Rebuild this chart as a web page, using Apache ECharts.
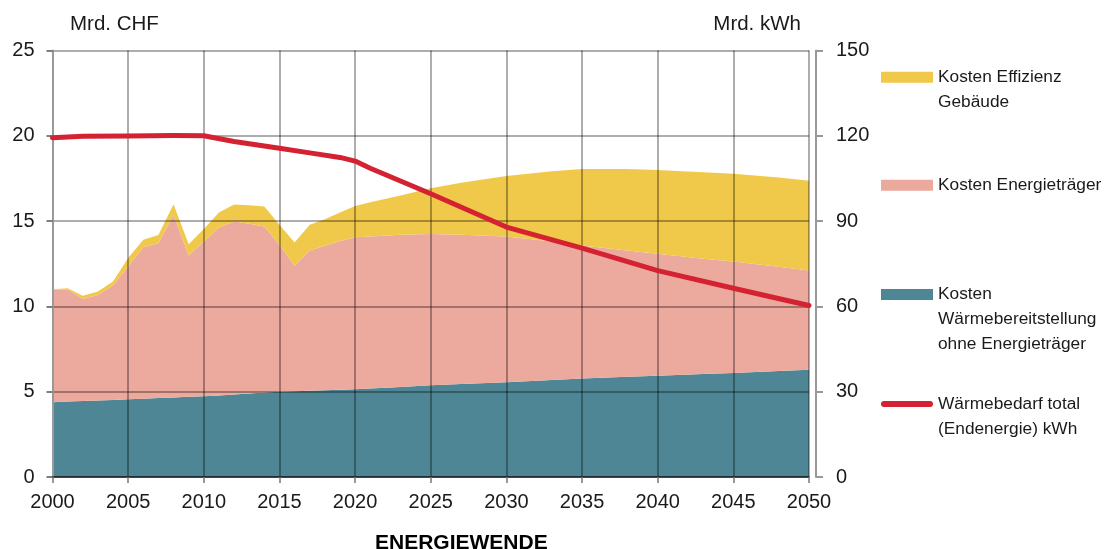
<!DOCTYPE html>
<html>
<head>
<meta charset="utf-8">
<script src="https://cdn.jsdelivr.net/npm/echarts@6/dist/echarts.min.js"></script>
<style>
  html, body { margin: 0; padding: 0; background: #ffffff; }
  #chart { width: 1107px; height: 549px; }
</style>
</head>
<body>
<div id="chart"></div>
<script>
// Years shared by the three stacked cost areas
const costYears = [2000, 2001, 2002, 2003, 2004, 2005, 2006, 2007, 2008, 2009, 2010,
  2011, 2012, 2013, 2014, 2015, 2016, 2017, 2018, 2019, 2020, 2021,
  2023, 2025, 2027, 2030, 2033, 2035, 2038, 2040, 2043, 2045, 2048, 2050];

// Kosten Wärmebereitstellung ohne Energieträger (Mrd. CHF)
const kostenWaerme = [4.38, 4.42, 4.45, 4.49, 4.52, 4.56, 4.59, 4.63, 4.66, 4.70, 4.73,
  4.78, 4.84, 4.89, 4.95, 5.00, 5.03, 5.06, 5.09, 5.11, 5.14, 5.19,
  5.28, 5.38, 5.45, 5.55, 5.68, 5.77, 5.87, 5.94, 6.04, 6.10, 6.21, 6.29];

// Kosten Energieträger (Mrd. CHF)
const kostenEnergie = [6.59, 6.59, 5.99, 6.18, 6.70, 7.78, 8.88, 9.07, 10.71, 8.28, 9.07,
  9.84, 10.13, 9.95, 9.73, 8.61, 7.35, 8.21, 8.46, 8.73, 8.92, 8.90,
  8.92, 8.87, 8.75, 8.54, 8.12, 7.80, 7.41, 7.14, 6.76, 6.53, 6.11, 5.81];

// Kosten Effizienz Gebäude (Mrd. CHF)
const kostenEffizienz = [0.04, 0.06, 0.18, 0.20, 0.24, 0.49, 0.43, 0.49, 0.62, 0.67, 0.73,
  0.88, 1.00, 1.09, 1.17, 1.17, 1.36, 1.51, 1.56, 1.66, 1.83, 2.02,
  2.30, 2.68, 3.05, 3.56, 4.12, 4.48, 4.77, 4.92, 5.06, 5.14, 5.23, 5.26];

// Wärmebedarf total (Endenergie), Mrd. kWh
const bedarfYears = [2000, 2002, 2005, 2008, 2010, 2012, 2015, 2017, 2019, 2020, 2021, 2025, 2030, 2035, 2040, 2045, 2050];
const waermebedarf = [119.3, 119.8, 119.9, 120.1, 120.0, 118.0, 115.6, 114.0, 112.4, 111.1, 108.6, 99.6, 87.9, 80.5, 72.6, 66.4, 60.3];

// Axis settings
const yearMin = 2000, yearMax = 2050, yearStep = 5;
const chfMax = 25, chfStep = 5;
const kwhMax = 150, kwhStep = 30;

const names = {
  effizienz: 'Kosten Effizienz\nGebäude',
  energie: 'Kosten Energieträger',
  waerme: 'Kosten\nWärmebereitstellung\nohne Energieträger',
  bedarf: 'Wärmebedarf total\n(Endenergie) kWh'
};

const colors = {
  effizienz: '#F0C94B',
  energie: '#ECA99D',
  waerme: '#4E8695',
  bedarf: '#D52232'
};

const FONT = '"Liberation Sans", Arial, sans-serif';
const TEXT = '#1a1a1a';
const GRID = 'rgba(0,0,0,0.32)';

// value first, year second; the year is mapped to x through encode so that
// stacking acts on the cost value
const points = (xs, ys) => xs.map((x, i) => [ys[i], x]);

function legendAt(top, name, opts) {
  return Object.assign({
    left: 881,
    top: top,
    orient: 'vertical',
    padding: 0,
    itemGap: 0,
    itemWidth: 52,
    itemHeight: 11,
    icon: 'rect',
    selectedMode: false,
    data: [name],
    // blank lines above keep the first text line level with the swatch
    formatter: n => {
      const extra = n.split('\n').length - 1;
      return '\n'.repeat(extra) + n;
    },
    textStyle: {
      fontFamily: FONT,
      fontSize: 17.3,
      lineHeight: 25,
      color: TEXT
    }
  }, opts || {});
}

function areaSeries(name, values, color) {
  return {
    name: name,
    type: 'line',
    stack: 'kosten',
    yAxisIndex: 0,
    data: points(costYears, values),
    encode: { x: 1, y: 0 },
    color: color,
    symbol: 'none',
    showSymbol: false,
    lineStyle: { width: 0, color: color },
    areaStyle: { color: color, opacity: 1 },
    z: 2,
    silent: true
  };
}

const chart = echarts.init(document.getElementById('chart'), null, { renderer: 'canvas' });

chart.setOption({
  animation: false,
  backgroundColor: '#ffffff',
  textStyle: { fontFamily: FONT },
  grid: { left: 52.5, right: 298, top: 50.5, bottom: 72, containLabel: false },
  legend: [
    legendAt(39.8, names.effizienz),
    legendAt(172.8, names.energie),
    legendAt(232, names.waerme),
    legendAt(366.5, names.bedarf, {
      itemHeight: 6,
      icon: 'path://M3,0 L49,0 A3,3 0 0 1 49,6 L3,6 A3,3 0 0 1 3,0 Z'
    })
  ],
  xAxis: {
    type: 'value',
    min: yearMin,
    max: yearMax,
    interval: yearStep,
    z: 3,
    axisLine: { show: true, onZero: false, lineStyle: { color: '#222', width: 1.5 } },
    axisTick: { show: true, length: 6, lineStyle: { color: '#777', width: 1.5 } },
    splitLine: { show: true, lineStyle: { color: GRID, width: 2 } },
    axisLabel: { fontFamily: FONT, fontSize: 20, color: TEXT, margin: 15, formatter: v => String(v) }
  },
  yAxis: [
    {
      type: 'value',
      position: 'left',
      min: 0,
      max: chfMax,
      interval: chfStep,
      z: 3,
      axisLine: { show: true, lineStyle: { color: '#999', width: 2 } },
      axisTick: { show: true, length: 6, lineStyle: { color: '#555', width: 1.5 } },
      splitLine: { show: true, lineStyle: { color: GRID, width: 2 } },
      axisLabel: { fontFamily: FONT, fontSize: 20, color: TEXT, margin: 18 }
    },
    {
      type: 'value',
      position: 'right',
      offset: 7,
      min: 0,
      max: kwhMax,
      interval: kwhStep,
      z: 3,
      axisLine: { show: true, lineStyle: { color: '#999', width: 2 } },
      axisTick: { show: true, length: 7, lineStyle: { color: '#999', width: 2 } },
      splitLine: { show: false },
      axisLabel: { fontFamily: FONT, fontSize: 20, color: TEXT, margin: 20 }
    }
  ],
  graphic: [
    { type: 'text', left: 70, top: 14, style: { text: 'Mrd. CHF', font: '20.5px ' + FONT, fill: TEXT } },
    { type: 'text', right: 1107 - 801, top: 14, style: { text: 'Mrd. kWh', font: '20.5px ' + FONT, fill: TEXT } },
    { type: 'text', left: 375, top: 533, style: { text: 'ENERGIEWENDE', font: 'bold 21px ' + FONT, fill: '#000' } }
  ],
  series: [
    areaSeries(names.waerme, kostenWaerme, colors.waerme),
    areaSeries(names.energie, kostenEnergie, colors.energie),
    areaSeries(names.effizienz, kostenEffizienz, colors.effizienz),
    {
      name: names.bedarf,
      type: 'line',
      yAxisIndex: 1,
      data: points(bedarfYears, waermebedarf),
      encode: { x: 1, y: 0 },
      color: colors.bedarf,
      symbol: 'none',
      showSymbol: false,
      lineStyle: { width: 5, color: colors.bedarf, cap: 'round', join: 'round' },
      z: 5,
      silent: true
    }
  ]
});
</script>
</body>
</html>
